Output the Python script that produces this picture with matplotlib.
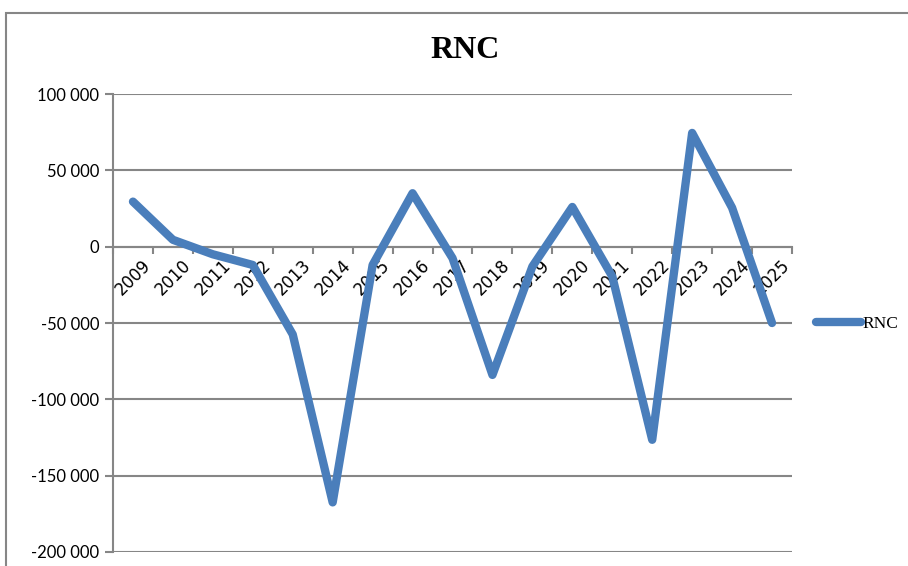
import numpy as np
import matplotlib.pyplot as plt
from matplotlib.patches import Rectangle
from matplotlib.ticker import FuncFormatter, FixedLocator
from matplotlib.transforms import ScaledTranslation

years = ['2009', '2010', '2011', '2012', '2013', '2014', '2015', '2016', '2017',
         '2018', '2019', '2020', '2021', '2022', '2023', '2024', '2025']
rnc = [29500, 4500, -5000, -12000, -57500, -167500, -12000, 35000, -7500,
       -84000, -13000, 26000, -19500, -126500, 74500, 25500, -50000]

line_color = '#4A7EBB'
grid_color = '#868686'

fig = plt.figure(figsize=(9.08, 5.66), dpi=100)
ax = fig.add_axes([113 / 908, 1 - 552 / 566, (792 - 113) / 908, (552 - 94) / 566])

x = np.arange(len(years))
line, = ax.plot(x, rnc, color=line_color, lw=6, solid_capstyle='round',
                solid_joinstyle='round', label='RNC', zorder=3)

ax.set_xlim(-0.5, len(years) - 0.5)
ax.set_ylim(-200000, 100000)
ax.set_yticks(np.arange(-200000, 100001, 50000))
ax.yaxis.set_major_formatter(FuncFormatter(lambda v, p: f"{int(v):,}".replace(',', ' ')))
ax.yaxis.grid(True, color=grid_color, lw=1.5)
ax.set_axisbelow(True)

# labels at the category centres, tick marks on the boundaries
ax.set_xticks(x)
ax.set_xticklabels(years)
ax.xaxis.set_minor_locator(FixedLocator(np.arange(-0.5, len(years))))
ax.tick_params(axis='x', which='major', length=0, pad=7, labelrotation=45, labelsize=12)
ax.tick_params(axis='x', which='minor', direction='out', length=5, width=1.5, color=grid_color)
offset = ScaledTranslation(0.1, 0, fig.dpi_scale_trans)
for lbl in ax.get_xticklabels():
    lbl.set_family('Lato')
    lbl.set_ha('right')
    lbl.set_va('top')
    lbl.set_rotation_mode('anchor')
    lbl.set_transform(lbl.get_transform() + offset)

ax.tick_params(axis='y', direction='out', length=6, width=1.5, color=grid_color,
               labelsize=12, pad=4)
for lbl in ax.get_yticklabels():
    lbl.set_family('Lato')

ax.spines['bottom'].set_position(('data', 0))
ax.spines['bottom'].set_color(grid_color)
ax.spines['bottom'].set_linewidth(1.5)
ax.spines['left'].set_color(grid_color)
ax.spines['left'].set_linewidth(1.5)
ax.spines['top'].set_visible(False)
ax.spines['right'].set_visible(False)

fig.text(465 / 908, 1 - 50 / 566, 'RNC', ha='center', va='center',
         fontsize=23, fontweight='bold', family='Liberation Serif')

fig.legend(handles=[line], loc='center left', bbox_to_anchor=(816 / 908, 1 - 324 / 566),
           frameon=False, handlelength=2.6, handletextpad=0.1, borderpad=0,
           borderaxespad=0, prop={'family': 'Liberation Serif', 'size': 12.5})

fig.patches.append(Rectangle((6 / 908, -0.1), 2, 1 - 13 / 566 + 0.1, transform=fig.transFigure,
                             fill=False, edgecolor=grid_color, lw=1.5))

fig.savefig('out.png', dpi=100)
